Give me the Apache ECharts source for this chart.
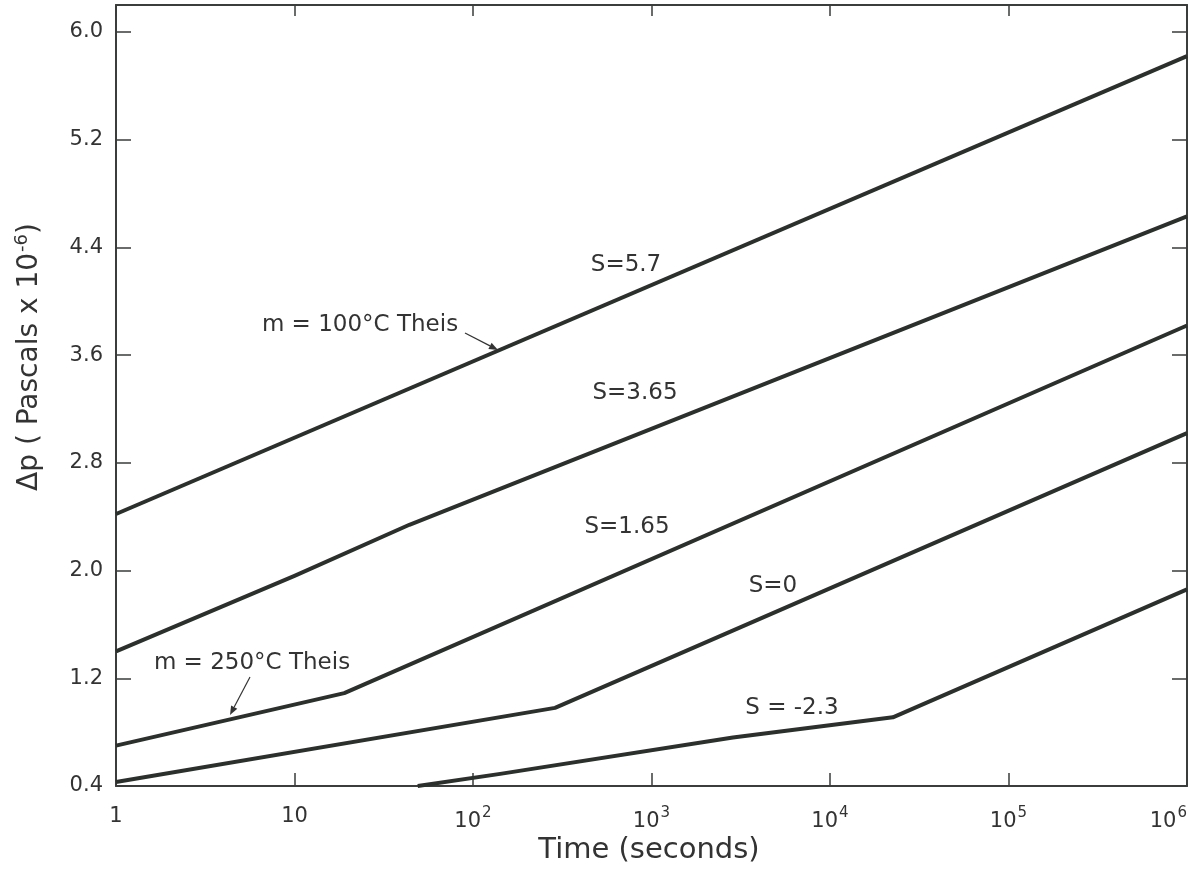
<!DOCTYPE html>
<html>
<head>
<meta charset="utf-8">
<script src="https://cdn.jsdelivr.net/npm/echarts@6/dist/echarts.min.js"></script>
<style>
  html, body { margin: 0; padding: 0; background: #fff; }
  #main { width: 1190px; height: 887px; }
</style>
</head>
<body>
<div id="main"></div>
<script>
// time (s) and pressure drop (Pa x 1e-6)
var tTheis100 = [1, 1e6];
var pTheis100 = [2.42, 5.82];

var tS365 = [1, 10, 44, 1e6];
var pS365 = [1.40, 1.96, 2.34, 4.63];

var tS165 = [1, 19, 1e6];
var pS165 = [0.70, 1.09, 3.82];

var tS0 = [1, 288, 1e6];
var pS0 = [0.43, 0.98, 3.02];

var tSm23 = [49, 142, 2860, 22500, 1e6];
var pSm23 = [0.40, 0.49, 0.76, 0.91, 1.86];

var yTicks = [0.4, 1.2, 2.0, 2.8, 3.6, 4.4, 5.2, 6.0];

var inkColor = '#2b302d';
var axisColor = '#3a3d3b';
var fontFam = '"DejaVu Sans", sans-serif';

function pairs(t, p) {
  return t.map(function (v, i) { return [v, p[i]]; });
}

function lineSeries(name, t, p) {
  return {
    name: name,
    type: 'line',
    data: pairs(t, p),
    symbol: 'none',
    silent: true,
    lineStyle: { color: inkColor, width: 4, join: 'round' },
    xAxisIndex: 0,
    yAxisIndex: 0
  };
}

var chartDom = document.getElementById('main');
var myChart = echarts.init(chartDom);

function label(x, y, txt) {
  return {
    type: 'text',
    x: x, y: y,
    style: {
      text: txt,
      fill: '#333',
      font: '23px ' + fontFam,
      align: 'center',
      verticalAlign: 'middle'
    }
  };
}

function arrow(x1, y1, x2, y2) {
  var ang = Math.atan2(y2 - y1, x2 - x1);
  var hl = 9, hw = 3.5;
  var bx = x2 - hl * Math.cos(ang), by = y2 - hl * Math.sin(ang);
  var nx = -Math.sin(ang) * hw, ny = Math.cos(ang) * hw;
  return [
    { type: 'line', shape: { x1: x1, y1: y1, x2: bx, y2: by }, style: { stroke: '#333', lineWidth: 1.2 } },
    { type: 'polygon', shape: { points: [[x2, y2], [bx + nx, by + ny], [bx - nx, by - ny]] }, style: { fill: '#333' } }
  ];
}

var option = {
  animation: false,
  backgroundColor: '#fff',
  grid: { left: 116, right: 3, top: 5, bottom: 101, containLabel: false, outerBoundsMode: 'none' },
  xAxis: [{
    type: 'log',
    logBase: 10,
    min: 1,
    max: 1e6,
    position: 'bottom',
    axisLine: { lineStyle: { color: axisColor, width: 2 } },
    axisTick: { inside: true, length: 13, lineStyle: { color: axisColor, width: 1.5 } },
    minorTick: { show: false },
    splitLine: { show: false },
    axisLabel: {
      margin: 20,
      color: '#333',
      fontFamily: fontFam,
      fontSize: 21,
      alignMaxLabel: 'right',
      formatter: function (v) {
        var e = Math.round(Math.log10(v));
        if (e === 0) return '1';
        if (e === 1) return '10';
        return '10{sup|' + e + '}';
      },
      rich: {
        sup: { fontSize: 15, fontFamily: fontFam, color: '#333', padding: [0, 0, 16, 1] }
      }
    }
  }, {
    type: 'log',
    logBase: 10,
    min: 1,
    max: 1e6,
    position: 'top',
    axisLine: { lineStyle: { color: axisColor, width: 2 } },
    axisTick: { inside: true, length: 11, lineStyle: { color: axisColor, width: 1.5 } },
    axisLabel: { show: false },
    splitLine: { show: false }
  }],
  yAxis: [{
    type: 'value',
    min: 0.4,
    max: 6.2,
    interval: 0.8,
    position: 'left',
    axisLine: { show: true, lineStyle: { color: axisColor, width: 2 } },
    axisTick: { show: true, inside: true, length: 15, lineStyle: { color: axisColor, width: 1.5 } },
    splitLine: { show: false },
    axisLabel: {
      margin: 13,
      color: '#333',
      fontFamily: fontFam,
      fontSize: 21,
      showMaxLabel: false,
      formatter: function (v) {
        var hit = yTicks.filter(function (t) { return Math.abs(t - v) < 1e-6; });
        return hit.length ? hit[0].toFixed(1) : '';
      }
    }
  }, {
    type: 'value',
    min: 0.4,
    max: 6.2,
    interval: 0.8,
    position: 'right',
    axisLine: { show: true, lineStyle: { color: axisColor, width: 2 } },
    axisTick: { show: true, inside: true, length: 15, lineStyle: { color: axisColor, width: 1.5 } },
    splitLine: { show: false },
    axisLabel: { show: false }
  }],
  series: [
    lineSeries('m=100°C Theis', tTheis100, pTheis100),
    lineSeries('S=3.65', tS365, pS365),
    lineSeries('S=1.65', tS165, pS165),
    lineSeries('S=0', tS0, pS0),
    lineSeries('S=-2.3', tSm23, pSm23)
  ],
  graphic: [
    label(626, 265, 'S=5.7'),
    label(360, 325, 'm = 100°C Theis'),
    label(635, 393, 'S=3.65'),
    label(627, 527, 'S=1.65'),
    label(773, 586, 'S=0'),
    label(792, 708, 'S = -2.3'),
    label(252, 663, 'm = 250°C Theis'),
    {
      type: 'text',
      x: 649, y: 850,
      style: {
        text: 'Time (seconds)',
        fill: '#333',
        font: '29px ' + fontFam,
        align: 'center',
        verticalAlign: 'middle'
      }
    },
    {
      type: 'text',
      x: 30, y: 357,
      rotation: Math.PI / 2,
      style: {
        text: 'Δp ( Pascals x 10{sup|-6})',
        fill: '#333',
        font: '28px ' + fontFam,
        align: 'center',
        verticalAlign: 'middle',
        rich: {
          sup: { fontSize: 18, fontFamily: fontFam, fill: '#333', padding: [0, 0, 16, 1] }
        }
      }
    }
  ].concat(arrow(465, 333, 498, 350), arrow(250, 677, 230, 715))
};

option && myChart.setOption(option);

window.addEventListener('resize', function () { myChart.resize(); });
</script>
</body>
</html>
